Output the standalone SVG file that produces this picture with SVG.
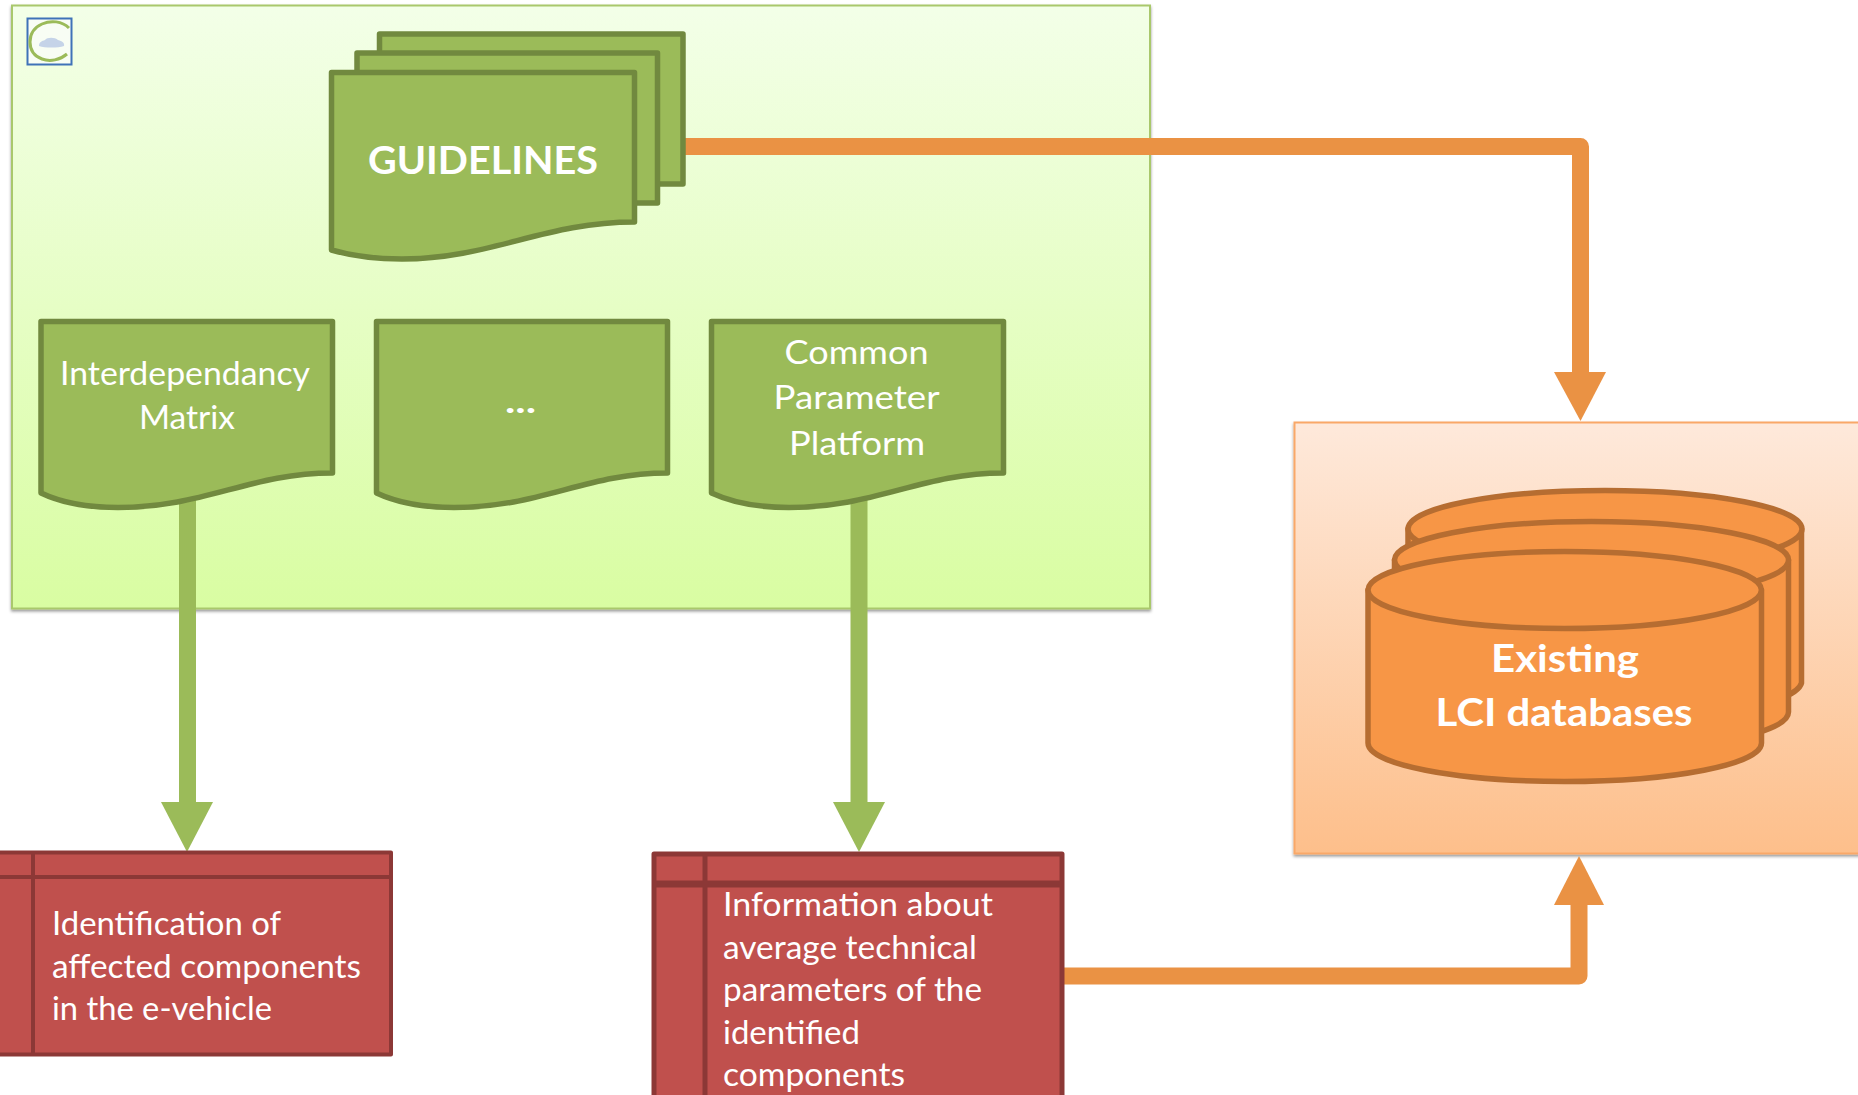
<svg xmlns="http://www.w3.org/2000/svg" width="1858" height="1095" viewBox="0 0 1858 1095">
<defs>
<style>
.doc{fill:#9bbb59;stroke:#71893f;stroke-width:5.500;stroke-linejoin:round}
.red{fill:#c0504d;stroke:#8c3836;stroke-width:4;stroke-linejoin:round}
.redline{fill:none;stroke:#8c3836;stroke-width:4}
.cyl{fill:#f79646;stroke:#b66d31;stroke-width:5.500;stroke-linejoin:round}
.t{font-family:"Lato","Liberation Sans",sans-serif;fill:#fff;font-size:33px}
.b{font-weight:700}
.og{fill:none;stroke:#ea9244;stroke-width:17;stroke-linejoin:round}
.gr{fill:none;stroke:#9bbb59;stroke-width:17}
.oh{fill:#ea9244}
.gh{fill:#9bbb59}
</style>
<linearGradient id="gPanel" x1="0" y1="0" x2="0" y2="1"><stop offset="0" stop-color="#f3ffe8"/><stop offset="1" stop-color="#d9fda2"/></linearGradient>
<linearGradient id="oPanel" x1="0" y1="0" x2="0" y2="1"><stop offset="0" stop-color="#fee9db"/><stop offset="1" stop-color="#fdbf8b"/></linearGradient>
<filter id="sh" x="-3%" y="-3%" width="106%" height="106%"><feDropShadow dx="0" dy="2" stdDeviation="1.500" flood-color="#000" flood-opacity="0.4"/></filter>
</defs>
<rect width="1858" height="1095" fill="#fff"/>
<g id="panel-guidelines"><rect x="12" y="5.500" width="1138" height="603" fill="url(#gPanel)" stroke="#a9c86c" stroke-width="2" filter="url(#sh)"/></g>
<g id="panel-lci"><rect x="1294.500" y="422.500" width="600" height="431" fill="url(#oPanel)" stroke="#f9a868" stroke-width="2" filter="url(#sh)"/></g>
<g id="logo">
<rect x="27.500" y="18.500" width="44" height="46" fill="#f8fdf4" stroke="#3f72b8" stroke-width="2"/>
<path d="M69 28C62 21 51 20 42 24C33 28 30 35 30 42C30 50 34 56 42 59C50 62 60 60 67 54" fill="none" stroke="#9bbb59" stroke-width="3"/>
<path d="M39 46C39 42 42 41 45 40C47 37 55 37 58 40C62 41 65 43 64 46C58 48 45 48 39 46Z" fill="#c5d3e8"/>
</g>
<g id="connectors">
<path class="gr" d="M187.500 490V805"/><polygon class="gh" points="161,802 213,802 187,852"/>
<path class="gr" d="M859 490V805"/><polygon class="gh" points="833,802 885,802 859,852"/>
<path class="og" d="M680 146.500H1580.500V376"/><polygon class="oh" points="1554,372 1606,372 1580.500,421"/>
<path class="og" d="M1060 976H1579V902"/><polygon class="oh" points="1554,905 1604,905 1579,856"/>
</g>
<g id="doc-guidelines">
<path class="doc" d="M379.500 34H683V184H500V100H379.500Z"/>
<path class="doc" d="M357 53H657.500V203H500V100H357Z"/>
<path class="doc" d="M331.500 72.500H634.500V222C545 222 490 259 402 259C375 259 352 256 331.500 250Z"/>
<text class="t b" x="483" y="174" text-anchor="middle" textLength="230" lengthAdjust="spacingAndGlyphs" style="font-size:38px">GUIDELINES</text>
</g>
<g id="doc-interdependancy">
<path class="doc" d="M41 321.500H332.500V473C250 473 205 507.500 118 507.500C88 507.500 62 503 41 493Z"/>
<text class="t" x="185" y="385" text-anchor="middle" textLength="250" lengthAdjust="spacingAndGlyphs">Interdependancy</text>
<text class="t" x="187" y="429" text-anchor="middle" textLength="96" lengthAdjust="spacingAndGlyphs">Matrix</text>
</g>
<g id="doc-dots">
<path class="doc" d="M376.500 321.500H667.500V473C586 473 541 507.500 454 507.500C424 507.500 398 503 376.500 493Z"/>
<text class="t b" x="520.500" y="413" text-anchor="middle" textLength="31" lengthAdjust="spacingAndGlyphs">...</text>
</g>
<g id="doc-common">
<path class="doc" d="M711.500 321.500H1003.500V473C921 473 876 507.500 789 507.500C759 507.500 733 503 711.500 493Z"/>
<text class="t" x="856.500" y="364" text-anchor="middle" textLength="144" lengthAdjust="spacingAndGlyphs">Common</text>
<text class="t" x="856.500" y="409" text-anchor="middle" textLength="166" lengthAdjust="spacingAndGlyphs">Parameter</text>
<text class="t" x="857" y="455" text-anchor="middle" textLength="136" lengthAdjust="spacingAndGlyphs">Platform</text>
</g>
<g id="box-identification">
<rect class="red" x="-6" y="852.500" width="397" height="202"/>
<path class="redline" d="M33 852V1055M-6 877H391"/>
<text class="t" x="52" y="935" textLength="229" lengthAdjust="spacingAndGlyphs">Identification of</text>
<text class="t" x="52" y="978" textLength="309" lengthAdjust="spacingAndGlyphs">affected components</text>
<text class="t" x="52" y="1020" textLength="220" lengthAdjust="spacingAndGlyphs">in the e-vehicle</text>
</g>
<g id="box-information">
<rect class="red" x="654" y="854" width="408" height="260" style="stroke-width:5"/>
<path class="redline" d="M705 854V1100" style="stroke-width:5"/>
<path class="redline" d="M654 884H1062" style="stroke-width:7"/>
<text class="t" x="723" y="916" textLength="270" lengthAdjust="spacingAndGlyphs">Information about</text>
<text class="t" x="723" y="959" textLength="254" lengthAdjust="spacingAndGlyphs">average technical</text>
<text class="t" x="723" y="1001" textLength="259" lengthAdjust="spacingAndGlyphs">parameters of the</text>
<text class="t" x="723" y="1044" textLength="137" lengthAdjust="spacingAndGlyphs">identified</text>
<text class="t" x="723" y="1086" textLength="182" lengthAdjust="spacingAndGlyphs">components</text>
</g>
<g id="db-lci">
<path class="cyl" d="M1408 529V683A197 38.500 0 0 0 1801.500 683V529Z"/><ellipse class="cyl" cx="1605" cy="529" rx="197" ry="38.500"/>
<path class="cyl" d="M1394.500 560V712A197 38.500 0 0 0 1788.500 712V560Z"/><ellipse class="cyl" cx="1591.500" cy="560" rx="197" ry="38.500"/>
<path class="cyl" d="M1368 590V743A196.700 38.500 0 0 0 1761.500 743V590Z"/><ellipse class="cyl" cx="1564.700" cy="590" rx="196.700" ry="38.500"/>
<text class="t b" x="1565" y="672" text-anchor="middle" textLength="148" lengthAdjust="spacingAndGlyphs" style="font-size:38px">Existing</text>
<text class="t b" x="1564" y="726" text-anchor="middle" textLength="257" lengthAdjust="spacingAndGlyphs" style="font-size:38px">LCI databases</text>
</g>
</svg>
